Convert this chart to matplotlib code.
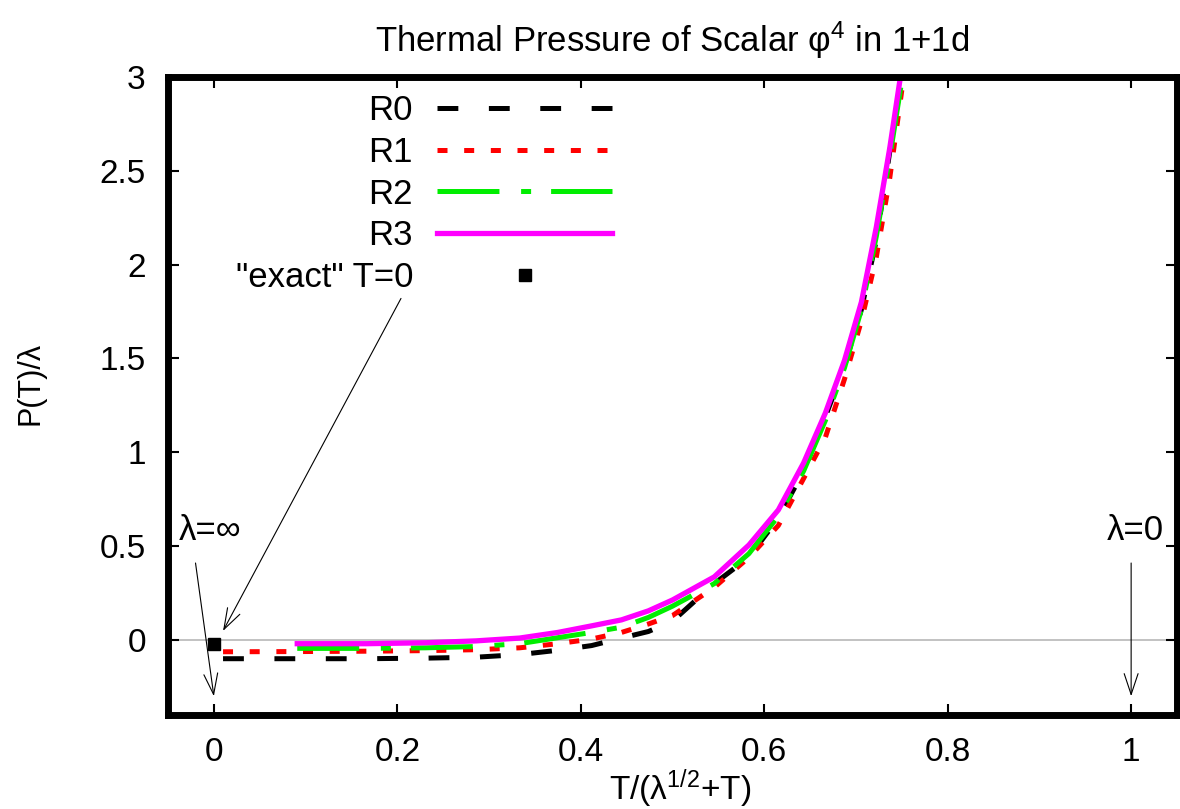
import matplotlib
matplotlib.use('Agg')
import matplotlib.pyplot as plt

plt.rcParams['font.family'] = ['Liberation Sans', 'DejaVu Sans']
plt.rcParams['mathtext.fontset'] = 'custom'
plt.rcParams['mathtext.rm'] = 'Liberation Sans'
plt.rcParams['lines.scale_dashes'] = False

# x = T/(sqrt(lambda)+T) grid used by R0 and R1
x_r01 = [0.01, 0.0909, 0.1667, 0.2308, 0.2857, 0.3333, 0.375, 0.4118, 0.4444,
         0.4737, 0.5, 0.5455, 0.5833, 0.6154, 0.6429, 0.6667, 0.6875, 0.7059,
         0.7222, 0.7368, 0.75]
r0 = [-0.10, -0.10, -0.10, -0.097, -0.092, -0.078, -0.055, -0.03, 0.01,
      0.045, 0.10, 0.30, 0.44, 0.65, 0.90, 1.19, 1.46, 1.76, 2.13, 2.6, 3.0]
r1 = [-0.063, -0.062, -0.06, -0.057, -0.052, -0.042, -0.02, 0.005, 0.04,
      0.085, 0.13, 0.28, 0.44, 0.61, 0.86, 1.08, 1.39, 1.70, 2.04, 2.46, 2.93]

# grid used by R2 and R3
x_r23 = [0.0909, 0.1667, 0.2308, 0.2857, 0.3333, 0.375, 0.4118, 0.4444,
         0.4737, 0.5, 0.5455, 0.5833, 0.6154, 0.6429, 0.6667, 0.6875, 0.7059,
         0.7222, 0.7368, 0.75]
r2 = [-0.045, -0.045, -0.042, -0.035, -0.02, 0.012, 0.04, 0.068, 0.12,
      0.18, 0.30, 0.46, 0.66, 0.90, 1.17, 1.45, 1.76, 2.15, 2.57, 2.98]
r3 = [-0.02, -0.02, -0.015, -0.005, 0.01, 0.04, 0.075, 0.107, 0.155,
      0.213, 0.336, 0.506, 0.693, 0.943, 1.21, 1.49, 1.80, 2.2, 2.62, 3.05]

exact_x = [0.0]
exact_y = [-0.02]

xticks = [0, 0.2, 0.4, 0.6, 0.8, 1]
xtick_labels = ['0', '0.2', '0.4', '0.6', '0.8', '1']
yticks = [0, 0.5, 1, 1.5, 2, 2.5, 3]
ytick_labels = ['0', '0.5', '1', '1.5', '2', '2.5', '3']

fs_tick = 24
fs = 25

fig = plt.figure(figsize=(11.8, 8.09), dpi=100)
ax = fig.add_axes([168 / 1180, 94 / 809, 1009 / 1180, 638 / 809])

ax.axhline(0, color='0.72', lw=1.2, zorder=1)

ax.plot(x_r01, r0, color='black', lw=3.6, ls=(0, (15, 22)), label='R0')
ax.plot(x_r01, r1, color='#ff0000', lw=3.6, ls=(0, (7.2, 12)), label='R1')
ax.plot(x_r23, r2, color='#00ee00', lw=3.6, ls=(0, (44.6, 15.6, 7.2, 14.4)), label='R2')
ax.plot(x_r23, r3, color='#ff00ff', lw=3.8, label='R3')
ax.plot(exact_x, exact_y, ls='none', marker='s', color='black', ms=8,
        label='"exact" T=0')

arrow = dict(arrowstyle='->,head_length=0.75,head_width=0.25', lw=0.8,
             color='black', shrinkA=0, shrinkB=0, mutation_scale=20)
ax.annotate('', xy=(0.01, 0.048), xytext=(0.204, 1.82), arrowprops=arrow)
ax.annotate('', xy=(0.0, -0.30), xytext=(-0.02, 0.41), arrowprops=arrow)
ax.annotate('', xy=(1.0, -0.30), xytext=(1.0, 0.41), arrowprops=arrow)
ax.text(-0.038, 0.585, 'λ=∞', fontsize=fs, ha='left', va='center')
ax.text(0.973, 0.585, 'λ=0', fontsize=fs, ha='left', va='center')

ax.set_xlim(-0.05, 1.05)
ax.set_ylim(-0.4, 3)
ax.set_xticks(xticks)
ax.set_xticklabels(xtick_labels)
ax.set_yticks(yticks)
ax.set_yticklabels(ytick_labels)
ax.tick_params(direction='in', length=8, width=1.5, labelsize=fs_tick,
               top=True, right=True)
ax.tick_params(axis='x', pad=16)
ax.tick_params(axis='y', pad=16)
for s in ax.spines.values():
    s.set_linewidth(5)

ax.set_title(r'Thermal Pressure of Scalar φ$\mathregular{^4}$ in 1+1d',
             fontsize=fs, pad=18)
ax.set_xlabel(r'T/(λ$\mathregular{^{1/2}}$+T)', fontsize=24, labelpad=0)
ax.xaxis.set_label_coords(0.508, -0.082)
ax.set_ylabel('P(T)/λ', fontsize=22)
ax.yaxis.set_label_coords(-0.121, 0.52)

ax.legend(loc='upper right', bbox_to_anchor=(444 / 1009, 0.973),
          frameon=False, fontsize=fs, markerfirst=False, handlelength=5.04,
          handletextpad=0.69, labelspacing=0.25, borderpad=0,
          borderaxespad=0, numpoints=1)

fig.savefig('out.png', dpi=100)
